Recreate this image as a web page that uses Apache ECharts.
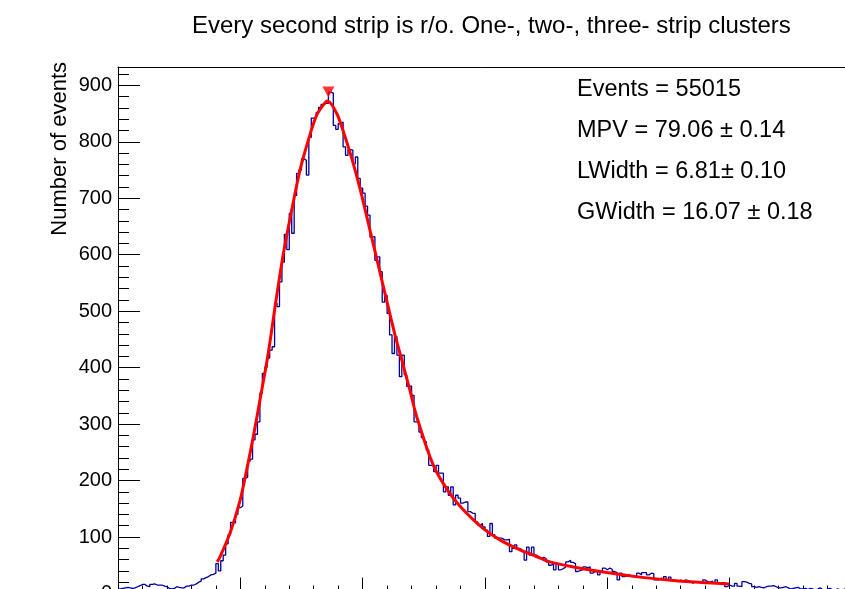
<!DOCTYPE html>
<html>
<head>
<meta charset="utf-8">
<script src="https://cdn.jsdelivr.net/npm/echarts@6/dist/echarts.min.js"></script>
<style>html,body{margin:0;padding:0;background:#fff}#c{width:845px;height:589px}</style>
</head>
<body>
<div id="c"></div>
<script>
// ---------------- data ----------------
const titleText = "Every second strip is r/o. One-, two-, three- strip clusters";
const yAxisTitle = "Number of events";
const statsLines = ["Events = 55015", "MPV = 79.06 \u00b1 0.14", "LWidth = 6.81\u00b1 0.10", "GWidth = 16.07 \u00b1 0.18"];

const xRange = [0, 300];
const yRange = [0, 932.4];
const yMajorTicks = [0, 100, 200, 300, 400, 500, 600, 700, 800, 900];
const yTickLabels = ["0", "100", "200", "300", "400", "500", "600", "700", "800", "900"];
const xMajorTicks = [0, 50, 100, 150, 200, 250, 300];

// histogram: one value per unit-width bin, bins 0..299
const binCounts = [
  8, 9, 10, 11, 10, 9, 10, 12, 14, 16, 16, 13, 12, 16, 17, 15, 15, 15, 13, 12,
  9, 8, 9, 12, 11, 10, 10, 13, 13, 15, 15, 17, 20, 22, 26, 28, 30, 33, 34, 36,
  53, 40, 58, 68, 88, 104, 126, 125, 140, 152, 155, 204, 206, 234, 238, 272, 282, 304, 355,
  390, 401, 417, 431, 437, 514, 508, 552, 587, 636, 609, 673, 638, 705, 744, 750, 770, 767, 741, 808,
  842, 843, 852, 861, 866, 868, 868, 888, 886,
  829, 822, 832, 835, 791, 776, 786, 785, 761, 773, 735, 718, 709, 686, 670, 631, 632, 590, 596, 570,
  516, 528, 496, 458, 425, 455, 422, 384, 422, 387,
  367, 367, 351, 304, 304, 286, 276, 269, 254, 227, 227, 216, 227, 213, 213, 180, 189, 174, 189, 157,
  174, 169, 160, 162, 162, 145, 142, 142, 127, 121, 124, 118, 112, 101, 124, 104, 98, 98, 98, 95,
  95, 96, 74, 80, 86, 80, 78, 74, 59, 82, 68, 82, 68, 65, 62,
  64, 62, 56, 50, 52, 42, 53, 42, 44, 47, 56, 59, 55, 53, 39, 41, 42, 47, 46, 47,
  36, 39, 38, 33, 39, 45, 42, 45, 43, 39, 37, 24, 36, 30, 31, 33, 30, 30, 29, 36,
  33, 37, 37, 33, 36, 35, 24, 24, 27, 26, 30, 24, 29, 24, 23, 21, 24, 21, 24, 23,
  21, 18, 21, 20, 21, 18, 24, 21, 20, 22, 18, 24, 19, 19, 19, 12, 15, 13, 13, 18,
  13, 12, 21, 20, 18, 17, 12, 11, 12, 11, 10, 12, 13, 13, 14, 12, 10, 10, 11, 12,
  10, 8, 9, 10, 11, 8, 8, 9,
  7, 9, 8, 6, 8, 10, 7, 6, 8, 9, 7, 6, 8, 7, 6, 8, 7, 6, 7
];

// fitted Landau x Gauss curve
const fitX = [40.5, 41.7, 45.8, 49.9, 52.6, 55.3, 58.0, 61.4, 64.2, 67.6, 71.0, 74.4, 77.8, 81.2, 84.6, 85.6,
              89.4, 92.8, 96.2, 99.6, 103.0, 106.4, 109.8, 113.2, 116.6, 119.3, 122.1, 128.9, 135.7, 142.5,
              149.3, 156.1, 162.9, 169.7, 176.5, 186.1, 199.7, 213.3, 226.9, 240.6, 249.8];
const fitY = [56, 65, 107, 165, 219, 278, 342, 425, 508, 602, 679, 750, 803, 847, 869, 872,
              850, 809, 761, 705, 643, 581, 519, 458, 404, 360, 313, 227, 177, 142,
              115, 95, 80, 68, 56, 47, 37, 29, 23, 19, 17];

// found peak marker
const peakX = [86];
const peakY = [888];

// ---------------- chart ----------------
const FONT = "'Liberation Sans', Arial, Helvetica, sans-serif";
const histData = binCounts.map((v, i) => [xRange[0] + i, v]);
histData.push([xRange[0] + binCounts.length, binCounts[binCounts.length - 1]]);
const fitData = fitX.map((x, i) => [x, fitY[i]]);
const peakData = peakX.map((x, i) => [x, peakY[i]]);

const yMinorTicks = [];
for (let v = 20; v < yRange[1]; v += 20) if (v % 100 !== 0) yMinorTicks.push(v);
const xMinorTicks = [];
for (let v = 10; v < xRange[1]; v += 10) if (v % 50 !== 0) xMinorTicks.push(v);

const chart = echarts.init(document.getElementById('c'), null, {renderer: 'canvas'});
const black = '#000';

const option = {
  animation: false,
  backgroundColor: '#fff',
  title: {
    text: titleText,
    left: 192, top: 14, padding: 0,
    textStyle: {fontFamily: FONT, fontSize: 24, fontWeight: 'normal', color: black}
  },
  grid: {left: 118, top: 67, right: -7, bottom: -4.5, containLabel: false, outerBoundsMode: 'none'},
  xAxis: [
    {
      type: 'value', position: 'bottom', min: xRange[0], max: xRange[1],
      axisLine: {show: true, onZero: false, lineStyle: {color: black, width: 1}},
      axisTick: {show: true, inside: true, length: 16, customValues: xMajorTicks, lineStyle: {color: black, width: 1}},
      axisLabel: {show: false},
      splitLine: {show: false}
    },
    {
      type: 'value', position: 'bottom', min: xRange[0], max: xRange[1],
      axisLine: {show: false, onZero: false},
      axisTick: {show: true, inside: true, length: 8, customValues: xMinorTicks, lineStyle: {color: black, width: 1}},
      axisLabel: {show: false},
      splitLine: {show: false}
    },
    {
      type: 'value', position: 'top', min: xRange[0], max: xRange[1],
      axisLine: {show: true, onZero: false, lineStyle: {color: black, width: 1}},
      axisTick: {show: false}, axisLabel: {show: false}, splitLine: {show: false}
    }
  ],
  yAxis: [
    {
      type: 'value', position: 'left', min: yRange[0], max: yRange[1],
      axisLine: {show: true, onZero: false, lineStyle: {color: black, width: 1}},
      axisTick: {show: true, inside: true, length: 22, customValues: yMajorTicks, lineStyle: {color: black, width: 1}},
      axisLabel: {
        show: true, customValues: yMajorTicks, margin: 6,
        formatter: v => yTickLabels[yMajorTicks.indexOf(v)] ?? '',
        fontFamily: FONT, fontSize: 20, color: black
      },
      splitLine: {show: false}
    },
    {
      type: 'value', position: 'left', min: yRange[0], max: yRange[1],
      axisLine: {show: false, onZero: false},
      axisTick: {show: true, inside: true, length: 11, customValues: yMinorTicks, lineStyle: {color: black, width: 1}},
      axisLabel: {show: false},
      splitLine: {show: false}
    }
  ],
  graphic: [
    {
      type: 'text', x: 60, y: 62, rotation: Math.PI / 2,
      style: {text: yAxisTitle, fontFamily: FONT, fontSize: 22, fill: black, align: 'right', verticalAlign: 'middle'}
    }
  ].concat(statsLines.map((t, i) => ({
    type: 'text', x: 577, y: 90 + i * 40.7,
    style: {text: t, fontFamily: FONT, fontSize: 23.5, fill: black, align: 'left', verticalAlign: 'middle'}
  }))),
  series: [
    {
      type: 'line', name: 'hist', xAxisIndex: 0, yAxisIndex: 0,
      data: histData, step: 'end', showSymbol: false, symbol: 'none',
      lineStyle: {color: '#000099', width: 1.3}, z: 2
    },
    {
      type: 'line', name: 'fit', xAxisIndex: 0, yAxisIndex: 0,
      data: fitData, smooth: 0.3, showSymbol: false, symbol: 'none',
      lineStyle: {color: '#ff0000', width: 3}, z: 3
    },
    {
      type: 'scatter', name: 'peak', xAxisIndex: 0, yAxisIndex: 0,
      data: peakData, symbol: 'triangle', symbolRotate: 180, symbolSize: [12, 11],
      itemStyle: {color: '#ff0000'}, z: 4
    }
  ]
};
chart.setOption(option);
</script>
</body>
</html>
